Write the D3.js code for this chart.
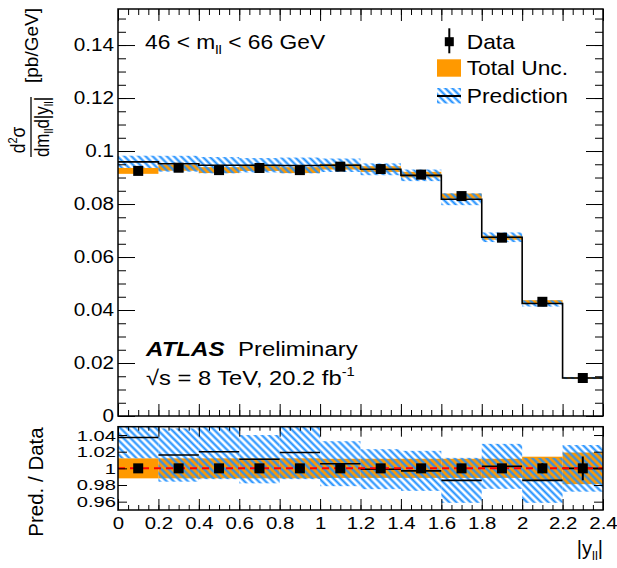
<!DOCTYPE html>
<html>
<head>
<meta charset="utf-8">
<script src="https://cdn.jsdelivr.net/npm/d3@7"></script>
<style>
  body { margin: 0; background: #fff; }
  svg { display: block; }
  svg text { font-family: "Liberation Sans", Arial, Helvetica, sans-serif; fill: #000; }
</style>
</head>
<body>
<svg id="chart" width="617" height="568"></svg>
<script>
// bin edges in |y_ll|
const edges = [0, 0.2, 0.4, 0.6, 0.8, 1.0, 1.2, 1.4, 1.6, 1.8, 2.0, 2.2, 2.4]
// measured cross section [pb/GeV]
const dataXsec = [0.0925, 0.0937, 0.0928, 0.0936, 0.0928, 0.0941, 0.0932, 0.0911, 0.0830, 0.0673, 0.0431, 0.01434]
// relative stat. error of data
const dataStat = [0.003, 0.003, 0.003, 0.003, 0.003, 0.003, 0.003, 0.004, 0.005, 0.005, 0.006, 0.0142]
// relative total uncertainty (orange band)
const totalUnc = [0.012, 0.012, 0.012, 0.012, 0.012, 0.0115, 0.0115, 0.0115, 0.0115, 0.0115, 0.014, 0.019]
// prediction / data and its relative uncertainty (hatched band)
const predRatio = [1.037, 1.016, 1.020, 1.011, 1.019, 1.0056, 0.999, 0.997, 0.9856, 1.0024, 0.9856, 1.000]
const predUnc = [0.025, 0.032, 0.033, 0.029, 0.032, 0.027, 0.024, 0.024, 0.027, 0.027, 0.027, 0.028]

const yTopTicks = [0, 0.02, 0.04, 0.06, 0.08, 0.1, 0.12, 0.14]
const ratioTicks = [0.96, 0.98, 1, 1.02, 1.04]
const xTicks = [0, 0.2, 0.4, 0.6, 0.8, 1, 1.2, 1.4, 1.6, 1.8, 2, 2.2, 2.4]

const orange = '#ff9900'
const blue = '#1f8fff'

const left = 118, right = 603
const top1 = 9, bot1 = 416, top2 = 426.7, bot2 = 510

const svg = d3.select('#chart')

const x = d3.scaleLinear().domain([0, 2.4]).range([left, right])
const yTop = d3.scaleLinear().domain([0, 0.1536]).range([bot1, top1])
const yRat = d3.scaleLinear().domain([0.95, 1.05]).range([bot2, top2])

const bins = dataXsec.map((d, i) => ({
  x0: edges[i], x1: edges[i + 1], xc: (edges[i] + edges[i + 1]) / 2,
  d, stat: dataStat[i], tot: totalUnc[i], r: predRatio[i], pu: predUnc[i]
}))

// defs: hatch + clips
const defs = svg.append('defs')
defs.append('pattern').attr('id', 'hatch')
  .attr('patternUnits', 'userSpaceOnUse')
  .attr('width', 5).attr('height', 5)
  .attr('patternTransform', 'rotate(-45)')
  .append('line')
  .attr('x1', 2.5).attr('x2', 2.5).attr('y1', -1).attr('y2', 6)
  .attr('stroke', blue).attr('stroke-width', 2.1)
defs.append('clipPath').attr('id', 'clipTop').append('rect')
  .attr('x', left).attr('y', top1).attr('width', right - left).attr('height', bot1 - top1)
defs.append('clipPath').attr('id', 'clipBot').append('rect')
  .attr('x', left).attr('y', top2).attr('width', right - left).attr('height', bot2 - top2)

// horizontal text, stretched a bit in x like the original rendering
function label (parent, px, py, size, sx, anchor) {
  return parent.append('g')
    .attr('transform', `translate(${px},${py}) scale(${sx},1)`)
    .append('text')
    .attr('font-size', size)
    .attr('text-anchor', anchor || 'start')
}

// ---------------- top panel ----------------
const gTop = svg.append('g').attr('clip-path', 'url(#clipTop)')
const binW = b => x(b.x1) - x(b.x0)

gTop.selectAll('rect.tot').data(bins).join('rect').attr('class', 'tot')
  .attr('x', b => x(b.x0)).attr('width', binW)
  .attr('y', b => yTop(b.d * (1 + b.tot)))
  .attr('height', b => yTop(b.d * (1 - b.tot)) - yTop(b.d * (1 + b.tot)))
  .attr('fill', orange)

gTop.selectAll('rect.pred').data(bins).join('rect').attr('class', 'pred')
  .attr('x', b => x(b.x0)).attr('width', binW)
  .attr('y', b => yTop(b.d * (b.r + b.pu)))
  .attr('height', b => yTop(b.d * (b.r - b.pu)) - yTop(b.d * (b.r + b.pu)))
  .attr('fill', 'url(#hatch)')

const stepPts = bins.map(b => [b.x0, b.d * b.r])
stepPts.push([edges[edges.length - 1], stepPts[stepPts.length - 1][1]])
gTop.append('path')
  .attr('d', d3.line().x(p => x(p[0])).y(p => yTop(p[1])).curve(d3.curveStepAfter)(stepPts))
  .attr('fill', 'none').attr('stroke', '#000').attr('stroke-width', 1.6)

gTop.selectAll('line.err').data(bins).join('line').attr('class', 'err')
  .attr('x1', b => x(b.xc)).attr('x2', b => x(b.xc))
  .attr('y1', b => yTop(b.d * (1 + b.stat))).attr('y2', b => yTop(b.d * (1 - b.stat)))
  .attr('stroke', '#000').attr('stroke-width', 2)
gTop.selectAll('rect.mk').data(bins).join('rect').attr('class', 'mk')
  .attr('x', b => x(b.xc) - 5).attr('y', b => yTop(b.d) - 5)
  .attr('width', 10).attr('height', 10).attr('fill', '#000')

// ---------------- ratio panel ----------------
const gBot = svg.append('g').attr('clip-path', 'url(#clipBot)')

gBot.selectAll('rect.tot').data(bins).join('rect').attr('class', 'tot')
  .attr('x', b => x(b.x0)).attr('width', binW)
  .attr('y', b => yRat(1 + b.tot))
  .attr('height', b => yRat(1 - b.tot) - yRat(1 + b.tot))
  .attr('fill', orange)

gBot.selectAll('rect.pred').data(bins).join('rect').attr('class', 'pred')
  .attr('x', b => x(b.x0)).attr('width', binW)
  .attr('y', b => yRat(b.r + b.pu))
  .attr('height', b => yRat(b.r - b.pu) - yRat(b.r + b.pu))
  .attr('fill', 'url(#hatch)')

gBot.selectAll('line.pl').data(bins).join('line').attr('class', 'pl')
  .attr('x1', b => x(b.x0)).attr('x2', b => x(b.x1))
  .attr('y1', b => yRat(b.r)).attr('y2', b => yRat(b.r))
  .attr('stroke', '#000').attr('stroke-width', 1.6)

gBot.append('line')
  .attr('x1', left).attr('x2', right).attr('y1', yRat(1)).attr('y2', yRat(1))
  .attr('stroke', '#ff0000').attr('stroke-width', 2).attr('stroke-dasharray', '7,5')

gBot.selectAll('line.err').data(bins).join('line').attr('class', 'err')
  .attr('x1', b => x(b.xc)).attr('x2', b => x(b.xc))
  .attr('y1', b => yRat(1 + b.stat)).attr('y2', b => yRat(1 - b.stat))
  .attr('stroke', '#000').attr('stroke-width', 2)
gBot.selectAll('rect.mk').data(bins).join('rect').attr('class', 'mk')
  .attr('x', b => x(b.xc) - 5).attr('y', yRat(1) - 5)
  .attr('width', 10).attr('height', 10).attr('fill', '#000')

// ---------------- axes ----------------
const fmt = d3.format('~g')
const noDomain = g => g.select('.domain').remove()
const topMinor = d3.range(0, 0.1536, 0.005)
const xMinor = d3.range(0, 2.4001, 0.05)

function styleLabels (g, size, sx, pad, axis) {
  g.selectAll('text').attr('font-size', size)
    .attr('transform', `scale(${sx},1)`)
  if (axis === 'left') g.selectAll('text').attr('x', -pad / sx)
}

// top panel y
svg.append('g').attr('transform', `translate(${left},0)`)
  .call(d3.axisLeft(yTop).tickValues(topMinor).tickSizeInner(-8).tickSizeOuter(0).tickFormat(''))
  .call(noDomain)
svg.append('g').attr('transform', `translate(${left},0)`)
  .call(d3.axisLeft(yTop).tickValues(yTopTicks).tickSizeInner(-17).tickSizeOuter(0).tickPadding(4).tickFormat(fmt))
  .call(noDomain)
  .call(g => styleLabels(g, 18.5, 1.12, 4, 'left'))
svg.append('g').attr('transform', `translate(${right},0)`)
  .call(d3.axisRight(yTop).tickValues(topMinor).tickSizeInner(-8).tickSizeOuter(0).tickFormat(''))
  .call(noDomain)
svg.append('g').attr('transform', `translate(${right},0)`)
  .call(d3.axisRight(yTop).tickValues(yTopTicks).tickSizeInner(-17).tickSizeOuter(0).tickFormat(''))
  .call(noDomain)

// top panel x (no labels)
for (const [yy, mk] of [[bot1, d3.axisBottom], [top1, d3.axisTop]]) {
  svg.append('g').attr('transform', `translate(0,${yy})`)
    .call(mk(x).tickValues(xMinor).tickSizeInner(-6).tickSizeOuter(0).tickFormat(''))
    .call(noDomain)
  svg.append('g').attr('transform', `translate(0,${yy})`)
    .call(mk(x).tickValues(xTicks).tickSizeInner(-12).tickSizeOuter(0).tickFormat(''))
    .call(noDomain)
}

// ratio panel y
svg.append('g').attr('transform', `translate(${left},0)`)
  .call(d3.axisLeft(yRat).tickValues(ratioTicks).tickSizeInner(-9).tickSizeOuter(0).tickPadding(2).tickFormat(fmt))
  .call(noDomain)
  .call(g => styleLabels(g, 15.5, 1.3, 2, 'left'))
svg.append('g').attr('transform', `translate(${right},0)`)
  .call(d3.axisRight(yRat).tickValues(ratioTicks).tickSizeInner(-9).tickSizeOuter(0).tickFormat(''))
  .call(noDomain)

// ratio panel x
svg.append('g').attr('transform', `translate(0,${top2})`)
  .call(d3.axisTop(x).tickValues(xMinor).tickSizeInner(-4).tickSizeOuter(0).tickFormat(''))
  .call(noDomain)
svg.append('g').attr('transform', `translate(0,${top2})`)
  .call(d3.axisTop(x).tickValues(xTicks).tickSizeInner(-10).tickSizeOuter(0).tickFormat(''))
  .call(noDomain)
svg.append('g').attr('transform', `translate(0,${bot2})`)
  .call(d3.axisBottom(x).tickValues(xMinor).tickSizeInner(-5).tickSizeOuter(0).tickFormat(''))
  .call(noDomain)
svg.append('g').attr('transform', `translate(0,${bot2})`)
  .call(d3.axisBottom(x).tickValues(xTicks).tickSizeInner(-11).tickSizeOuter(0).tickPadding(7).tickFormat(fmt))
  .call(noDomain)
  .call(g => styleLabels(g, 17, 1.2, 7, 'bottom'))

// frames
for (const [a, b] of [[top1, bot1], [top2, bot2]]) {
  svg.append('rect').attr('x', left).attr('y', a).attr('width', right - left).attr('height', b - a)
    .attr('fill', 'none').attr('stroke', '#000').attr('stroke-width', 1.5)
}

// ---------------- texts ----------------
const t1 = label(svg, 145, 49, 20, 1.14)
t1.append('tspan').text('46 < m')
t1.append('tspan').attr('font-size', 13).attr('dy', 5).text('ll')
t1.append('tspan').attr('dy', -5).text(' < 66 GeV')

// legend
svg.append('line').attr('x1', 449.3).attr('x2', 449.3).attr('y1', 28.3).attr('y2', 53.3)
  .attr('stroke', '#000').attr('stroke-width', 2)
svg.append('rect').attr('x', 449.3 - 4.5).attr('y', 41.7 - 4.5).attr('width', 9).attr('height', 9).attr('fill', '#000')
label(svg, 466.7, 49, 20, 1.14).text('Data')
svg.append('rect').attr('x', 437).attr('y', 59.3).attr('width', 24).attr('height', 17.4).attr('fill', orange)
label(svg, 466.7, 75, 20, 1.14).text('Total Unc.')
svg.append('rect').attr('x', 437).attr('y', 88).attr('width', 24).attr('height', 15.5).attr('fill', 'url(#hatch)')
svg.append('line').attr('x1', 437).attr('x2', 461).attr('y1', 96).attr('y2', 96)
  .attr('stroke', '#000').attr('stroke-width', 2)
label(svg, 466.7, 102.7, 20, 1.14).text('Prediction')

// ATLAS label
label(svg, 146, 356, 21, 1.15).attr('font-weight', 'bold').attr('font-style', 'italic').text('ATLAS')
label(svg, 238, 356, 21, 1.14).text('Preliminary')
const t2 = label(svg, 146, 385, 21, 1.13)
t2.append('tspan').text('√s = 8 TeV, 20.2 fb')
t2.append('tspan').attr('font-size', 13).attr('dy', -9).text('-1')

// axis titles
const xt = label(svg, 603, 555, 20, 1.0, 'end')
xt.append('tspan').text('|y')
xt.append('tspan').attr('font-size', 13).attr('dy', 5).text('ll')
xt.append('tspan').attr('dy', -5).text('|')

// rotated titles: local (u, v) -> screen (v, -u)
const rot = svg.append('g').attr('transform', 'rotate(-90)')
function rotText (u, v, size, stretch) {
  return rot.append('g').attr('transform', `translate(${u},${v}) scale(1,${stretch})`)
    .append('text').attr('font-size', size).attr('text-anchor', 'middle')
}
rotText(-45.5, 38, 19, 1).text('[pb/GeV]')
const num = rotText(-140, 25, 17.5, 1.17)
num.append('tspan').text('d')
num.append('tspan').attr('font-size', 11).attr('dy', -7).text('2')
num.append('tspan').attr('dy', 7).text('σ')
rot.append('line').attr('x1', -157).attr('x2', -97).attr('y1', 31).attr('y2', 31)
  .attr('stroke', '#000').attr('stroke-width', 1.3)
const den = rotText(-127, 48.5, 17, 1.17)
den.append('tspan').text('dm')
den.append('tspan').attr('font-size', 11).attr('dy', 4).text('ll')
den.append('tspan').attr('dy', -4).text('d|y')
den.append('tspan').attr('font-size', 11).attr('dy', 4).text('ll')
den.append('tspan').attr('dy', -4).text('|')
rotText(-482, 43, 20.5, 1).text('Pred. / Data')
</script>
</body>
</html>
